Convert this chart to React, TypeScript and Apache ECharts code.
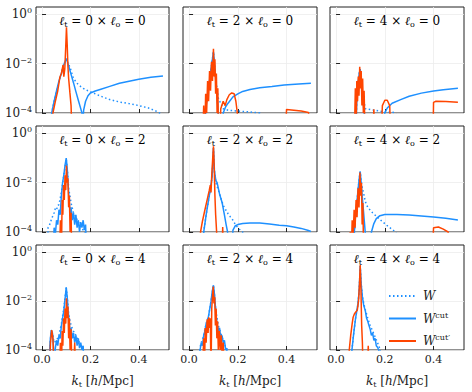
import React, { useEffect, useRef } from 'react';
import * as echarts from 'echarts';

// ---------- axis ticks / panel labels ----------
const K_TICKS = [0, 0.2, 0.4];
const Y_TICKS = [1e-4, 1e-2, 1];
const ELL_T = [0, 2, 4]; // columns
const ELL_O = [0, 2, 4]; // rows
const SERIES_NAMES = ['W', 'Wcut', "Wcut'"];

// ---------- data: [k_t, value] ----------
// lt=0, lo=0
const W_00 = [[0.035,1e-5],[0.04,1e-4],[0.05,3e-4],[0.06,8e-4],[0.07,2e-3],[0.08,4e-3],[0.088,8e-3],[0.095,0.012],[0.1,0.016],[0.105,0.012],[0.116,7e-3],[0.13,2.5e-3],[0.15,1.4e-3],[0.17,1e-3],[0.19,8e-4],[0.22,6e-4],[0.25,4.5e-4],[0.28,3.5e-4],[0.32,2.8e-4],[0.36,2.4e-4],[0.4,2e-4],[0.44,1.6e-4],[0.48,1.1e-4],[0.5,8e-5]];
const WCUT_00 = [[0.035,1e-5],[0.04,1e-4],[0.05,3e-4],[0.06,8e-4],[0.07,2e-3],[0.08,4e-3],[0.088,8e-3],[0.095,0.012],[0.1,0.016],[0.105,0.012],[0.12,3.7e-3],[0.13,1.7e-3],[0.14,7.4e-4],[0.15,3.3e-4],[0.16,1.5e-4],[0.165,1e-4],[0.168,3e-5],[0.172,1.3e-4],[0.18,3e-4],[0.19,5e-4],[0.2,6.5e-4],[0.22,7.8e-4],[0.24,9e-4],[0.28,1.2e-3],[0.32,1.6e-3],[0.36,1.95e-3],[0.4,2.35e-3],[0.45,2.8e-3],[0.5,3.2e-3]];
const WCUTP_00 = [[0.04,1e-5],[0.045,1e-4],[0.055,3e-4],[0.065,8e-4],[0.074,2.9e-3],[0.08,4e-3],[0.087,9e-3],[0.09,3e-3],[0.094,6e-3],[0.098,0.05],[0.101,0.3],[0.104,0.06],[0.107,8e-3],[0.11,2.5e-3],[0.115,7e-4],[0.12,2e-4],[0.124,1e-5]];
// lt=2, lo=0
const W_01 = [[0.06,1e-5],[0.07,2e-4],[0.08,1e-3],[0.09,6e-3],[0.1,0.03],[0.106,6e-3],[0.112,1.5e-3],[0.12,4e-4],[0.14,1.5e-4],[0.16,1.3e-4],[0.2,1.2e-4],[0.25,1.1e-4],[0.29,1e-4],[0.3,5e-5]];
const WCUT_01 = [[0.06,1e-5],[0.07,2e-4],[0.08,1e-3],[0.09,6e-3],[0.1,0.03],[0.106,6e-3],[0.112,1e-3],[0.118,2e-4],[0.122,1e-5],[0.135,1e-5],[0.14,1e-4],[0.15,1.8e-4],[0.16,2.5e-4],[0.18,4.5e-4],[0.2,6e-4],[0.22,7.5e-4],[0.25,9e-4],[0.29,1.05e-3],[0.34,1.2e-3],[0.39,1.38e-3],[0.45,1.5e-3],[0.5,1.6e-3]];
const WCUTP_01 = [[0.056,1e-5],[0.06,2e-4],[0.064,1e-5],[0.068,6e-4],[0.072,1e-4],[0.076,2e-3],[0.08,3e-4],[0.084,5e-3],[0.088,8e-4],[0.092,1.2e-2],[0.096,2e-3],[0.1,0.04],[0.103,3e-3],[0.106,1.5e-2],[0.109,6e-4],[0.112,4e-3],[0.115,1e-4],[0.118,1e-3],[0.121,1e-5],[0.126,1e-5],[0.13,1.5e-4],[0.14,3e-4],[0.148,2e-4],[0.155,3.5e-4],[0.165,5.5e-4],[0.175,6.5e-4],[0.185,6e-4],[0.192,3e-4],[0.198,1e-4],[0.201,1e-5],[0.395,1e-5],[0.4,1.4e-4],[0.43,1.3e-4],[0.46,1.2e-4],[0.49,1.05e-4],[0.5,1e-5]];
// lt=4, lo=0
const W_02 = [[0.08,1e-5],[0.085,3e-4],[0.09,1.5e-3],[0.095,4e-3],[0.099,6e-3],[0.104,2e-3],[0.11,5e-4],[0.12,1.5e-4],[0.2,1.1e-4],[0.24,1.05e-4],[0.26,5e-5]];
const WCUT_02 = [[0.08,1e-5],[0.085,3e-4],[0.09,1.5e-3],[0.095,4e-3],[0.099,6e-3],[0.104,2e-3],[0.11,4e-4],[0.115,1e-4],[0.12,1e-5],[0.195,1e-5],[0.2,1e-4],[0.21,1.6e-4],[0.23,2.5e-4],[0.265,3.5e-4],[0.3,4.8e-4],[0.35,6.4e-4],[0.4,7.8e-4],[0.44,8.8e-4],[0.5,1e-3]];
const WCUTP_02 = [[0.075,1e-5],[0.079,1e-3],[0.082,1e-5],[0.085,2e-3],[0.088,3e-4],[0.091,3e-3],[0.094,5e-4],[0.097,7.5e-3],[0.1,1e-3],[0.103,5e-3],[0.106,2e-4],[0.109,2.5e-3],[0.112,1e-4],[0.115,8e-4],[0.119,1e-5],[0.15,1e-5],[0.155,1.4e-4],[0.16,1e-5],[0.185,1e-5],[0.19,2e-4],[0.2,3.3e-4],[0.21,3.3e-4],[0.22,2e-4],[0.225,1e-5],[0.398,1e-5],[0.4,2.7e-4],[0.41,3e-4],[0.45,2.9e-4],[0.5,2.7e-4]];
// lt=0, lo=2
const W_10 = [[0.022,1e-5],[0.025,1.5e-4],[0.03,1.8e-4],[0.04,3.5e-4],[0.05,6e-4],[0.055,9e-4],[0.06,8e-4],[0.065,1.2e-3],[0.07,1.3e-3],[0.08,4e-3],[0.09,2e-2],[0.1,0.09],[0.105,0.03],[0.11,6e-3],[0.12,1.5e-3],[0.13,6e-4],[0.14,4e-4],[0.15,2.5e-4],[0.16,1.8e-4],[0.17,1.2e-4],[0.18,8e-5]];
const WCUT_10 = [[0.045,1e-5],[0.05,1.5e-4],[0.055,8e-5],[0.06,3e-4],[0.065,2e-4],[0.07,8e-4],[0.075,5e-4],[0.08,3e-3],[0.085,1e-2],[0.09,2e-2],[0.095,5e-2],[0.1,0.1],[0.104,0.04],[0.108,8e-3],[0.112,2e-3],[0.116,6e-4],[0.12,1e-3],[0.125,3e-4],[0.13,6e-4],[0.135,2e-4],[0.14,5e-4],[0.145,1.5e-4],[0.15,3e-4],[0.155,1e-4],[0.16,2.5e-4],[0.165,1.5e-4],[0.17,3e-4],[0.175,1.2e-4],[0.18,2e-4],[0.185,1e-5]];
const WCUTP_10 = [[0.072,1e-5],[0.076,3e-4],[0.08,1e-5],[0.083,2e-3],[0.086,5e-4],[0.089,8e-3],[0.092,2e-3],[0.095,2e-2],[0.098,5e-3],[0.101,5e-2],[0.104,1e-2],[0.107,1.5e-2],[0.11,1e-3],[0.113,3e-3],[0.116,1e-4],[0.12,6e-4],[0.123,1e-5]];
// lt=2, lo=2
const W_11 = [[0.055,1e-5],[0.06,1e-4],[0.07,5e-4],[0.08,2e-3],[0.09,8e-3],[0.095,2e-2],[0.1,0.25],[0.104,0.03],[0.11,1e-2],[0.12,5e-3],[0.13,2.5e-3],[0.14,1.2e-3],[0.15,8e-4],[0.16,5.5e-4],[0.17,4e-4],[0.18,3e-4],[0.19,2e-4],[0.2,1.5e-4],[0.21,1.2e-4],[0.22,1e-4],[0.225,6e-5]];
const WCUT_11 = [[0.055,1e-5],[0.06,1e-4],[0.07,5e-4],[0.08,2e-3],[0.09,8e-3],[0.095,2e-2],[0.1,0.25],[0.104,0.03],[0.11,1.2e-2],[0.115,1e-2],[0.125,3.5e-3],[0.136,1.5e-3],[0.145,5e-4],[0.152,2e-4],[0.158,1e-4],[0.163,1e-5],[0.175,1e-5],[0.18,1.2e-4],[0.19,1.8e-4],[0.2,2e-4],[0.22,2.2e-4],[0.25,2.3e-4],[0.29,2.3e-4],[0.33,2.1e-4],[0.37,1.9e-4],[0.4,1.8e-4],[0.43,1.6e-4],[0.46,1.4e-4],[0.49,1.15e-4],[0.5,1.05e-4]];
const WCUTP_11 = [[0.043,1e-5],[0.047,1e-4],[0.055,2.8e-4],[0.065,8e-4],[0.075,2.2e-3],[0.083,5e-3],[0.087,8e-3],[0.09,4e-3],[0.093,2e-2],[0.097,0.1],[0.1,0.3],[0.103,0.05],[0.106,3e-3],[0.109,5e-4],[0.113,1e-4],[0.117,1e-5],[0.135,1e-5],[0.138,1.6e-4],[0.141,1e-5]];
// lt=4, lo=2
const W_12 = [[0.07,1e-5],[0.075,1e-4],[0.08,5e-4],[0.085,1.5e-3],[0.09,5e-3],[0.095,1.5e-2],[0.099,2.8e-2],[0.103,1.2e-2],[0.108,6e-3],[0.115,3e-3],[0.12,1.7e-3],[0.13,1e-3],[0.15,6e-4],[0.18,3.2e-4],[0.21,1.8e-4],[0.244,1e-4],[0.25,7e-5]];
const WCUT_12 = [[0.07,1e-5],[0.075,1e-4],[0.08,5e-4],[0.085,1.5e-3],[0.09,5e-3],[0.095,1.5e-2],[0.099,2.8e-2],[0.103,1e-2],[0.107,3e-3],[0.112,8e-4],[0.117,2e-4],[0.122,5e-5],[0.13,1e-5],[0.14,1e-5],[0.145,1e-4],[0.155,2.2e-4],[0.165,3.5e-4],[0.18,4.6e-4],[0.2,5.1e-4],[0.25,5.1e-4],[0.3,4.9e-4],[0.35,4.5e-4],[0.4,4.1e-4],[0.45,3.6e-4],[0.5,3.1e-4]];
const WCUTP_12 = [[0.055,1e-5],[0.058,1e-4],[0.062,1e-5],[0.066,3e-4],[0.07,6e-5],[0.074,8e-4],[0.078,1.5e-4],[0.082,2e-3],[0.086,4e-4],[0.09,6e-3],[0.094,1e-3],[0.098,2.6e-2],[0.101,3e-3],[0.104,1e-2],[0.107,2e-4],[0.11,1.5e-3],[0.113,1e-5],[0.395,1e-5],[0.4,1.5e-4],[0.42,1.6e-4],[0.44,1.3e-4],[0.46,1e-4],[0.465,1e-5]];
// lt=0, lo=4
const W_20 = [[0.03,1e-5],[0.035,3e-4],[0.04,6e-4],[0.045,4e-4],[0.05,2e-4],[0.06,2.5e-4],[0.07,4e-4],[0.08,1.2e-3],[0.09,5e-3],[0.1,3.5e-2],[0.105,1.2e-2],[0.11,3e-3],[0.12,1e-3],[0.13,6e-4],[0.14,4e-4],[0.15,2.5e-4],[0.16,1.6e-4],[0.17,1.1e-4],[0.18,6e-5]];
const WCUT_20 = [[0.028,1e-5],[0.033,2e-4],[0.038,6.5e-4],[0.043,5e-4],[0.047,1.5e-4],[0.05,1e-5],[0.055,1.2e-4],[0.06,2.5e-4],[0.065,1.5e-4],[0.07,4e-4],[0.075,3e-4],[0.08,1e-3],[0.085,2e-3],[0.09,4e-3],[0.095,1.2e-2],[0.1,3.7e-2],[0.104,1.5e-2],[0.108,4e-3],[0.112,1.5e-3],[0.116,5e-4],[0.12,8e-4],[0.125,3e-4],[0.13,5e-4],[0.135,2e-4],[0.14,4e-4],[0.145,1.5e-4],[0.15,3e-4],[0.155,1.2e-4],[0.16,2e-4],[0.165,1e-4],[0.17,1.5e-4],[0.175,1e-5]];
const WCUTP_20 = [[0.03,1e-5],[0.035,2e-4],[0.04,6.5e-4],[0.045,3e-4],[0.05,1e-5],[0.072,1e-5],[0.076,2e-4],[0.08,1e-5],[0.083,6e-4],[0.086,1.5e-4],[0.089,2e-3],[0.092,5e-4],[0.095,5e-3],[0.098,1.2e-3],[0.101,1.3e-2],[0.104,2e-3],[0.107,6e-3],[0.11,3e-4],[0.113,2e-3],[0.116,1e-4],[0.12,7e-4],[0.124,1e-5],[0.13,1e-5],[0.135,2e-4],[0.14,1e-5]];
// lt=2, lo=4
const W_21 = [[0.04,1e-5],[0.045,1.3e-4],[0.05,2e-4],[0.06,4e-4],[0.07,1.2e-3],[0.08,2.5e-3],[0.09,1e-2],[0.1,4.5e-2],[0.105,1.5e-2],[0.11,4e-3],[0.12,1e-3],[0.13,5e-4],[0.14,2.5e-4],[0.15,1.3e-4],[0.155,1e-4],[0.16,5e-5]];
const WCUT_21 = [[0.04,1e-5],[0.045,1e-4],[0.05,2e-4],[0.055,1.5e-4],[0.06,4e-4],[0.065,6e-4],[0.07,1.2e-3],[0.075,1.5e-3],[0.08,2.5e-3],[0.085,5e-3],[0.09,1e-2],[0.095,2.5e-2],[0.1,4.5e-2],[0.104,2e-2],[0.108,6e-3],[0.112,2e-3],[0.116,1e-3],[0.12,6e-4],[0.125,8e-4],[0.13,3e-4],[0.135,4e-4],[0.14,2e-4],[0.145,2.5e-4],[0.15,1e-4],[0.155,1.2e-4],[0.158,1e-5]];
const WCUTP_21 = [[0.055,1e-5],[0.06,3e-4],[0.063,1e-5],[0.066,8e-4],[0.07,2e-4],[0.074,1.8e-3],[0.078,5e-4],[0.081,2.2e-3],[0.084,8e-4],[0.087,2e-3],[0.09,1e-5],[0.093,5e-3],[0.096,1.5e-2],[0.099,4e-2],[0.102,8e-3],[0.105,1.5e-2],[0.108,1e-3],[0.111,5e-3],[0.114,3e-4],[0.117,1.5e-3],[0.12,1e-4],[0.124,6e-4],[0.128,1e-4],[0.132,4e-4],[0.136,5e-5],[0.14,2e-4],[0.145,1e-5]];
// lt=4, lo=4
const W_22 = [[0.06,1e-5],[0.065,1e-4],[0.07,3e-4],[0.075,8e-4],[0.08,2e-3],[0.085,4e-3],[0.09,8e-3],[0.095,3e-2],[0.099,0.27],[0.103,0.05],[0.108,1.5e-2],[0.115,7e-3],[0.12,4.5e-3],[0.13,2e-3],[0.14,1e-3],[0.15,6e-4],[0.16,3.5e-4],[0.17,2e-4],[0.18,1.1e-4],[0.185,5e-5]];
const WCUT_22 = [[0.06,1e-5],[0.065,1e-4],[0.07,3e-4],[0.075,8e-4],[0.08,2e-3],[0.085,4e-3],[0.09,8e-3],[0.095,3e-2],[0.099,0.27],[0.103,0.05],[0.108,1.5e-2],[0.113,7e-3],[0.12,4e-3],[0.125,2e-3],[0.13,1.5e-3],[0.135,1e-3],[0.14,7e-4],[0.145,4e-4],[0.15,5e-4],[0.155,2.5e-4],[0.16,3e-4],[0.165,1.5e-4],[0.17,1.3e-4],[0.175,1e-4],[0.18,1e-5]];
const WCUTP_22 = [[0.05,1e-5],[0.054,1e-4],[0.06,4e-4],[0.066,1.2e-3],[0.07,2.2e-3],[0.075,3e-3],[0.08,3.5e-3],[0.087,4.3e-3],[0.092,1e-2],[0.096,5e-2],[0.099,0.3],[0.102,0.03],[0.105,1e-3],[0.108,2e-4],[0.111,1e-5],[0.128,1e-5],[0.132,1.5e-4],[0.136,1e-5]];

const PANEL_DATA = [
  [[W_00, WCUT_00, WCUTP_00], [W_01, WCUT_01, WCUTP_01], [W_02, WCUT_02, WCUTP_02]],
  [[W_10, WCUT_10, WCUTP_10], [W_11, WCUT_11, WCUTP_11], [W_12, WCUT_12, WCUTP_12]],
  [[W_20, WCUT_20, WCUTP_20], [W_21, WCUT_21, WCUTP_21], [W_22, WCUT_22, WCUTP_22]],
];

// ---------- layout / style ----------
const COL_LEFT = [36, 183, 330];
const COL_W = [133, 134, 134];
const ROW_TOP = [7, 126, 245];
const ROW_H = [106, 106, 105];
const BLUE = '#1E90FF';
const RED = '#FF4500';
const FONT = "'DejaVu Serif', 'Liberation Serif', serif";
const INK = '#222';

const supRich = { fontSize: 8, fontFamily: FONT, color: INK, padding: [0, 0, 7, 0] };
const subRich = { fontSize: 8, fontFamily: FONT, color: INK, padding: [6, 0, 0, 0] };
const itRich = { fontSize: 12, fontFamily: FONT, fontStyle: 'italic', color: INK };
const nRich = { fontSize: 12, fontFamily: FONT, color: INK };

function buildOption() {
  const grid: any[] = [];
  const xAxis: any[] = [];
  const yAxis: any[] = [];
  const series: any[] = [];
  const graphic: any[] = [];
  for (let r = 0; r < 3; r++) {
    for (let c = 0; c < 3; c++) {
      const idx = r * 3 + c;
      grid.push({
        left: COL_LEFT[c], top: ROW_TOP[r], width: COL_W[c], height: ROW_H[r],
        show: true, borderColor: INK, borderWidth: 1, backgroundColor: 'transparent',
      });
      const bottomRow = r === 2;
      xAxis.push({
        type: 'value', gridIndex: idx, min: -0.025, max: 0.525,
        axisLine: { show: false },
        axisTick: { show: true, inside: true, length: 4, lineStyle: { color: INK, width: 1 }, customValues: K_TICKS },
        axisLabel: {
          show: bottomRow, customValues: K_TICKS, margin: 4,
          formatter: (v: number) => v.toFixed(1),
          fontFamily: FONT, fontSize: 11, color: INK,
        },
        splitLine: { show: true, lineStyle: { color: '#ececec', width: 0.8 } },
        name: bottomRow ? '{i|k}{s|t} [{i|h}/Mpc]' : '',
        nameLocation: 'middle', nameGap: 24,
        nameTextStyle: { fontFamily: FONT, fontSize: 12, color: INK, rich: { i: itRich, s: subRich } },
      });
      yAxis.push({
        type: 'log', logBase: 10, gridIndex: idx, min: 1e-4, max: 2,
        axisLine: { show: false },
        axisTick: { show: true, inside: true, length: 4, lineStyle: { color: INK, width: 1 }, customValues: Y_TICKS },
        axisLabel: {
          show: c === 0, customValues: Y_TICKS, margin: 4,
          formatter: (v: number) => {
            const e = Math.round(Math.log10(v));
            return '10{sup|' + (e < 0 ? '\u2212' + (-e) : String(e)) + '}';
          },
          fontFamily: FONT, fontSize: 12, color: INK,
          rich: { sup: supRich },
        },
        splitLine: { show: true, lineStyle: { color: '#ececec', width: 0.8 } },
      });
      const [w, wc, wcp] = PANEL_DATA[r][c];
      const common = { type: 'line', xAxisIndex: idx, yAxisIndex: idx, symbol: 'none', showSymbol: false, clip: true, silent: true };
      series.push({ ...common, name: SERIES_NAMES[0], data: w, z: 2, itemStyle: { color: BLUE }, lineStyle: { color: BLUE, width: 1.5, type: [1.5, 2.5] } });
      series.push({ ...common, name: SERIES_NAMES[1], data: wc, z: 3, itemStyle: { color: BLUE }, lineStyle: { color: BLUE, width: 1.5 } });
      series.push({ ...common, name: SERIES_NAMES[2], data: wcp, z: 4, itemStyle: { color: RED }, lineStyle: { color: RED, width: 1.5 } });
      graphic.push({
        type: 'text',
        x: COL_LEFT[c] + COL_W[c] / 2,
        y: ROW_TOP[r] + 14,
        style: {
          text: `{i|\u2113}{s|t}{n| = ${ELL_T[c]} \u00d7 }{i|\u2113}{s|o}{n| = ${ELL_O[r]}}`,
          align: 'center', verticalAlign: 'middle',
          rich: { i: itRich, s: subRich, n: nRich },
        },
        z: 10,
      });
    }
  }
  return {
    animation: false,
    grid, xAxis, yAxis, series, graphic,
    legend: {
      orient: 'vertical', left: 383, top: 285,
      itemWidth: 27, itemHeight: 10, itemGap: 9,
      data: SERIES_NAMES,
      itemStyle: { opacity: 0, borderWidth: 0 },
      formatter: (name: string) =>
        name === 'W' ? '{i|W}' : name === 'Wcut' ? '{i|W}{sup|cut}' : '{i|W}{sup|cut\u2032}',
      textStyle: { fontFamily: FONT, fontSize: 12, color: INK, padding: [0, 0, 0, 2], rich: { i: itRich, sup: supRich } },
      selectedMode: false,
    },
  };
}

export default function App() {
  const ref = useRef<HTMLDivElement>(null);
  useEffect(() => {
    if (!ref.current) return;
    const chart = echarts.init(ref.current, undefined, { renderer: 'svg' });
    chart.setOption(buildOption() as any);
    return () => chart.dispose();
  }, []);
  return <div ref={ref} style={{ position: 'fixed', left: 0, top: 0, width: 472, height: 392, background: '#fff' }} />;
}
